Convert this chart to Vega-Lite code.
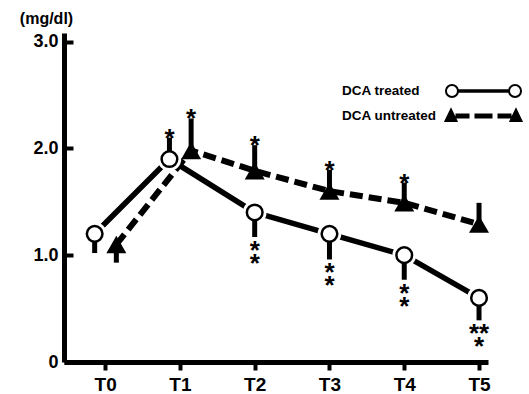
{
  "$schema": "https://vega.github.io/schema/vega-lite/v6.json",
  "width": 424,
  "height": 329,
  "autosize": {"type": "none"},
  "padding": {"left": 64, "top": 33, "right": 41, "bottom": 32},
  "background": "white",
  "config": {"view": {"stroke": null}, "font": "Liberation Sans"},
  "data": {
    "values": [
      {"series": "DCA treated", "time": "T0", "t": -0.14, "value": 1.2, "errEnd": 1.02, "sig": ""},
      {"series": "DCA treated", "time": "T1", "t": 0.86, "value": 1.9, "errEnd": 2.1, "sig": "*"},
      {"series": "DCA treated", "time": "T2", "t": 2, "value": 1.4, "errEnd": 1.17, "sig": "*\n*"},
      {"series": "DCA treated", "time": "T3", "t": 3, "value": 1.2, "errEnd": 0.96, "sig": "*\n*"},
      {"series": "DCA treated", "time": "T4", "t": 4, "value": 1.0, "errEnd": 0.77, "sig": "*\n*"},
      {"series": "DCA treated", "time": "T5", "t": 5, "value": 0.6, "errEnd": 0.39, "sig": "**\n\u00a0*"},
      {"series": "DCA untreated", "time": "T0", "t": 0.15, "value": 1.1, "errEnd": 0.93, "sig": ""},
      {"series": "DCA untreated", "time": "T1", "t": 1.15, "value": 1.98, "errEnd": 2.28, "sig": "*"},
      {"series": "DCA untreated", "time": "T2", "t": 2, "value": 1.79, "errEnd": 2.03, "sig": "*"},
      {"series": "DCA untreated", "time": "T3", "t": 3, "value": 1.6, "errEnd": 1.8, "sig": "*"},
      {"series": "DCA untreated", "time": "T4", "t": 4, "value": 1.49, "errEnd": 1.68, "sig": "*"},
      {"series": "DCA untreated", "time": "T5", "t": 5, "value": 1.29, "errEnd": 1.49, "sig": ""}
    ]
  },
  "encoding": {
    "x": {
      "field": "t",
      "type": "quantitative",
      "scale": {"domain": [-0.55, 5.12], "nice": false, "zero": false},
      "axis": {
        "title": null,
        "values": [0, 1, 2, 3, 4, 5],
        "labelExpr": "'T' + datum.value",
        "grid": false,
        "domainColor": "black",
        "domainWidth": 5,
        "tickColor": "black",
        "tickWidth": 4,
        "tickSize": 8,
        "labelFontSize": 19,
        "labelFontWeight": "bold",
        "labelColor": "black",
        "labelPadding": 5,
        "labelFlush": false
      }
    },
    "y": {
      "field": "value",
      "type": "quantitative",
      "title": "(mg/dl)",
      "scale": {"domain": [0, 3.08], "nice": false},
      "axis": {
        "title": "(mg/dl)",
        "titleAngle": 0,
        "titleAlign": "center",
        "titleBaseline": "alphabetic",
        "titleX": -18,
        "titleY": -10,
        "titleFontSize": 16,
        "titleFontWeight": "bold",
        "titleColor": "black",
        "values": [0, 1, 2, 3],
        "labelExpr": "datum.value == 0 ? '0' : format(datum.value, '.1f')",
        "grid": false,
        "domainColor": "black",
        "domainWidth": 5,
        "tickColor": "black",
        "tickWidth": 4,
        "tickSize": -9,
        "labelFontSize": 18,
        "labelFontWeight": "bold",
        "labelColor": "black",
        "labelPadding": 15,
        "labelFlush": false
      }
    }
  },
  "layer": [
    {
      "transform": [{"filter": "datum.series == 'DCA untreated'"}],
      "mark": {"type": "line", "color": "black", "strokeWidth": 6, "strokeDash": [13, 6]}
    },
    {
      "transform": [{"filter": "datum.series == 'DCA treated'"}],
      "mark": {"type": "line", "color": "black", "strokeWidth": 5.5}
    },
    {
      "transform": [{"filter": "datum.series == 'DCA treated'"}],
      "mark": {"type": "point", "shape": "circle", "filled": true, "fill": "white", "strokeWidth": 0, "size": 560, "opacity": 1}
    },
    {
      "mark": {"type": "rule", "color": "black", "strokeWidth": 5},
      "encoding": {"y2": {"field": "errEnd"}}
    },
    {
      "transform": [{"filter": "datum.series == 'DCA treated'"}],
      "mark": {"type": "point", "shape": "circle", "filled": true, "fill": "white", "stroke": "black", "strokeWidth": 2.5, "size": 245, "opacity": 1}
    },
    {
      "transform": [{"filter": "datum.series == 'DCA untreated'"}],
      "mark": {"type": "point", "shape": "triangle-up", "filled": true, "fill": "black", "strokeWidth": 0, "size": 400, "opacity": 1}
    },
    {
      "transform": [{"filter": "datum.errEnd > datum.value && datum.sig != ''"}],
      "mark": {"type": "text", "fontSize": 26, "fontWeight": "bold", "color": "black", "baseline": "alphabetic", "align": "center", "dy": 9, "lineBreak": "\n", "lineHeight": 13},
      "encoding": {
        "y": {"field": "errEnd", "type": "quantitative", "title": "(mg/dl)"},
        "text": {"field": "sig"}
      }
    },
    {
      "transform": [{"filter": "datum.errEnd < datum.value && datum.sig != ''"}],
      "mark": {"type": "text", "fontSize": 26, "fontWeight": "bold", "color": "black", "baseline": "alphabetic", "align": "center", "dy": 22, "lineBreak": "\n", "lineHeight": 13},
      "encoding": {
        "y": {"field": "errEnd", "type": "quantitative", "title": "(mg/dl)"},
        "text": {"field": "sig"}
      }
    },
    {
      "transform": [{"filter": "false"}],
      "mark": {"type": "point", "filled": true, "strokeWidth": 2, "size": 256, "opacity": 1},
      "encoding": {
        "shape": {
          "field": "series",
          "type": "nominal",
          "scale": {
            "domain": ["DCA treated", "DCA untreated"],
            "range": [
              "M-3.19,0A0.75,0.75,0,1,0,-4.69,0A0.75,0.75,0,1,0,-3.19,0ZM-3.19,-0.1L3.19,-0.1M-3.19,0.1L3.19,0.1M4.69,0A0.75,0.75,0,1,0,3.19,0A0.75,0.75,0,1,0,4.69,0Z",
              "M-4.75,0.62L-4.06,-0.81L-3.375,0.62ZM-3.375,-0.19L-1.875,-0.19L-1.875,0.19L-3.375,0.19ZM-1,-0.19L1,-0.19L1,0.19L-1,0.19ZM1.875,-0.19L3.375,-0.19L3.375,0.19L1.875,0.19ZM3.375,0.62L4.06,-0.81L4.75,0.62Z"
            ]
          },
          "legend": {
            "title": null,
            "orient": "none",
            "legendX": 278,
            "legendY": 49,
            "padding": 0,
            "symbolSize": 256,
            "symbolStrokeWidth": 2,
            "symbolOffset": 132.5,
            "labelOffset": -150.5,
            "rowPadding": 4,
            "labelFontSize": 13.5,
            "labelFontWeight": "bold",
            "labelColor": "black",
            "labelLimit": 200
          }
        },
        "fill": {
          "field": "series",
          "type": "nominal",
          "scale": {"domain": ["DCA treated", "DCA untreated"], "range": ["white", "black"]}
        },
        "stroke": {
          "field": "series",
          "type": "nominal",
          "scale": {"domain": ["DCA treated", "DCA untreated"], "range": ["black", "black"]}
        }
      }
    }
  ]
}
